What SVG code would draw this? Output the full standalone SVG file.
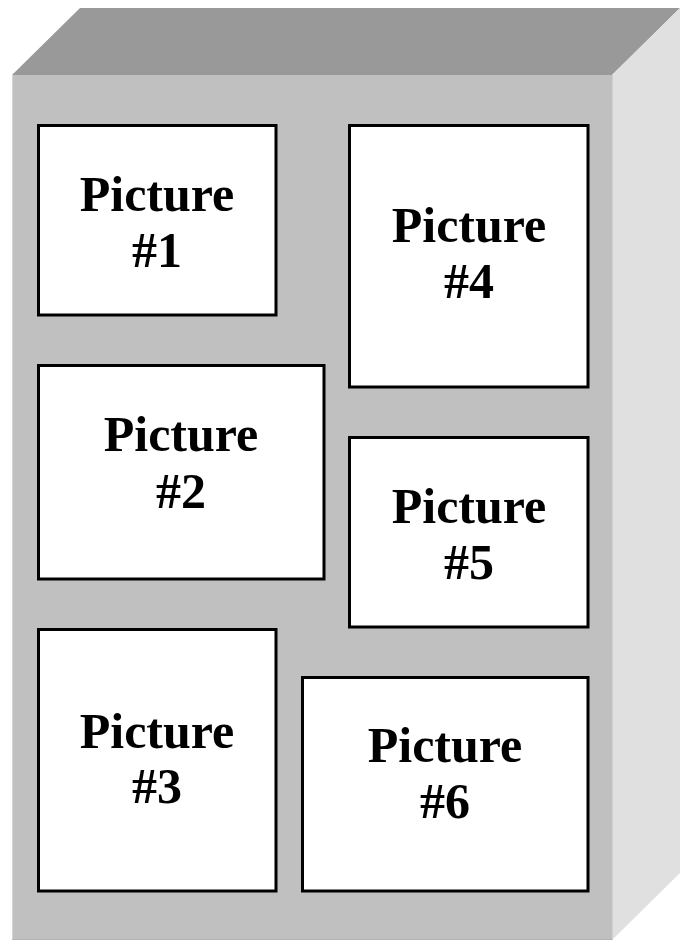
<svg xmlns="http://www.w3.org/2000/svg" width="688" height="942" viewBox="0 0 688 942">
<style>
.pic rect{fill:#ffffff;stroke:#000000;stroke-width:3}
.pic text{font-family:"Liberation Serif","Times New Roman",serif;font-weight:bold;font-size:50px;fill:#000000;text-anchor:middle}
</style>
<rect width="688" height="942" fill="#ffffff"/>
<g id="box">
<polygon points="12,75 80,8 680,8 612,75" fill="#999999"/>
<polygon points="612,75 680,8 680,873 612,940" fill="#e0e0e0"/>
<rect x="12" y="75" width="600" height="865" fill="#c0c0c0"/>
<line x1="12.5" y1="75" x2="12.5" y2="940" stroke="#d6d6d6" stroke-width="1"/>
<line x1="12" y1="939.5" x2="612" y2="939.5" stroke="#b4b4b4" stroke-width="1"/>
<line x1="612.5" y1="75" x2="612.5" y2="940" stroke="#d0d0d0" stroke-width="1"/>
</g>
<g id="picture1" class="pic">
<rect x="38.5" y="125.5" width="237.5" height="189.5"/>
<text x="157" y="211">Picture</text>
<text x="157" y="267">#1</text>
</g>
<g id="picture4" class="pic">
<rect x="349.5" y="125.5" width="238.5" height="261.5"/>
<text x="469" y="242">Picture</text>
<text x="469" y="298">#4</text>
</g>
<g id="picture2" class="pic">
<rect x="38.5" y="365.5" width="285.5" height="213.5"/>
<text x="181" y="451">Picture</text>
<text x="181" y="508">#2</text>
</g>
<g id="picture5" class="pic">
<rect x="349.5" y="437.5" width="238.5" height="189.5"/>
<text x="469" y="523">Picture</text>
<text x="469" y="579">#5</text>
</g>
<g id="picture3" class="pic">
<rect x="38.5" y="629.5" width="237.5" height="261.5"/>
<text x="157" y="748">Picture</text>
<text x="157" y="803">#3</text>
</g>
<g id="picture6" class="pic">
<rect x="302.5" y="677.5" width="285.5" height="213.5"/>
<text x="445" y="762">Picture</text>
<text x="445" y="818">#6</text>
</g>
<g id="connectors"></g>
</svg>
